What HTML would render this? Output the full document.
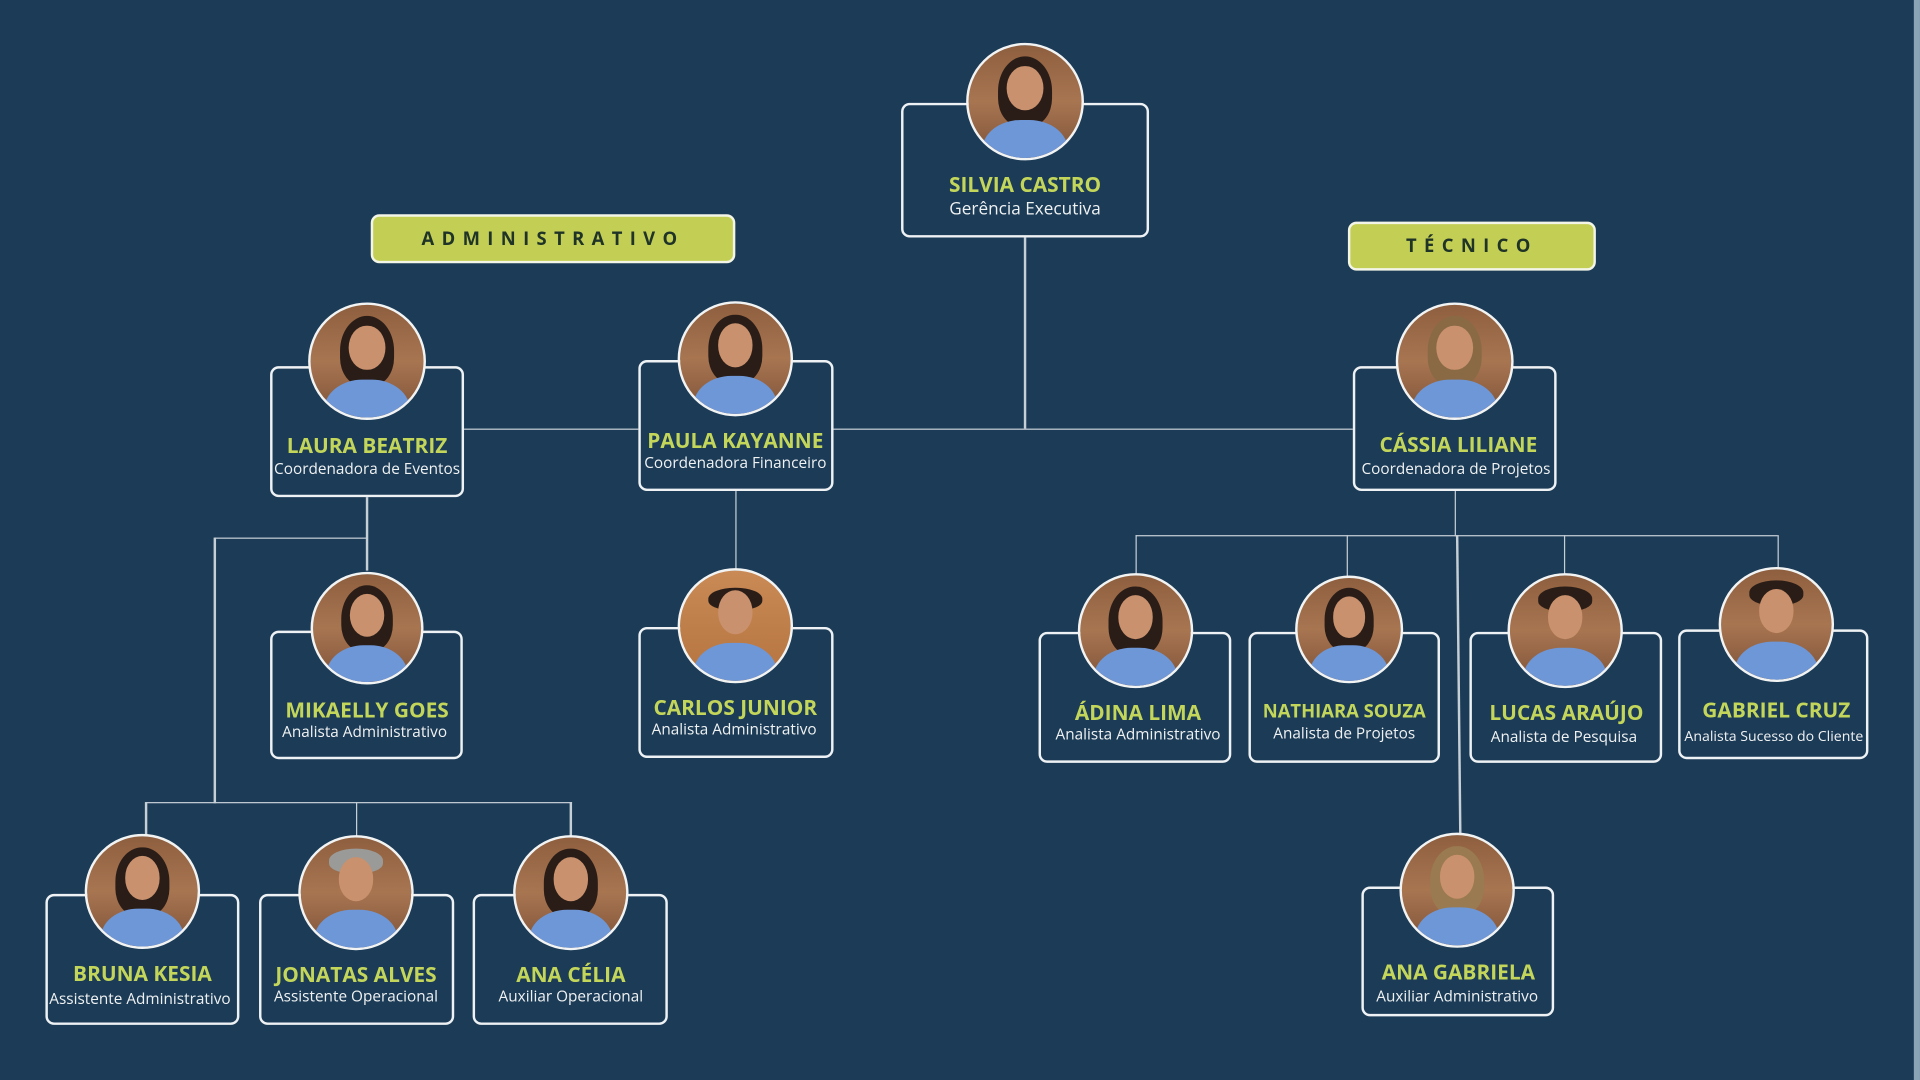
<!DOCTYPE html>
<html><head><meta charset="utf-8">
<style>
html,body{margin:0;padding:0;width:1920px;height:1080px;overflow:hidden;background:#1b3b57;}
#w{position:absolute;left:0;top:0;width:1564px;height:882px;transform:scale(1.2276,1.2245);transform-origin:0 0;font-family:"Open Sans","Liberation Sans",sans-serif;}
.box{position:absolute;border:2px solid #eef2f4;border-radius:7px;box-sizing:border-box;background:#1b3b57;}
.ph{position:absolute;border-radius:50%;border:2px solid #f2f4f4;box-sizing:border-box;overflow:hidden;background:linear-gradient(180deg,#8e5f3f 0%,#a87551 50%,#7d5238 100%);}
.ph .hair{position:absolute;left:26%;top:10%;width:48%;height:62%;border-radius:50% 50% 40% 40%;background:#2a1d17;}
.ph .face{position:absolute;left:34%;top:18%;width:32%;height:40%;border-radius:50%;background:#c9916d;}
.ph .shirt{position:absolute;left:12%;top:66%;width:76%;height:60%;border-radius:45% 45% 0 0;background:#6e97d8;}
.n{position:absolute;transform:translateX(-50%);white-space:nowrap;color:#c3d65a;font-weight:bold;font-size:17px;line-height:20px;}
.t{position:absolute;transform:translateX(-50%);white-space:nowrap;color:#f0f2f2;font-size:12.5px;line-height:16px;}
.l{position:absolute;background:#c6ced6;}
.tag{position:absolute;background:#c3ce55;border:2px solid #f3f5e6;border-radius:7px;box-sizing:border-box;color:#1f3327;font-weight:bold;font-size:15px;letter-spacing:6px;text-align:center;}
</style></head><body>
<div id="w">
<!-- lines -->
<div class="l" style="left:834px;top:194px;width:1.5px;height:156px"></div>
<div class="l" style="left:378px;top:349.5px;width:142px;height:1.5px"></div>
<div class="l" style="left:679px;top:349.5px;width:423px;height:1.5px"></div>
<div class="l" style="left:298px;top:406px;width:1.5px;height:60px"></div>
<div class="l" style="left:175px;top:438.5px;width:124px;height:1.5px"></div>
<div class="l" style="left:174px;top:439px;width:1.5px;height:217px"></div>
<div class="l" style="left:119px;top:654.5px;width:347px;height:1.5px"></div>
<div class="l" style="left:118px;top:655px;width:1.5px;height:30px"></div>
<div class="l" style="left:289.5px;top:655px;width:1.5px;height:30px"></div>
<div class="l" style="left:464px;top:655px;width:1.5px;height:30px"></div>
<div class="l" style="left:598.5px;top:401px;width:1.5px;height:65px"></div>
<div class="l" style="left:1184.5px;top:401px;width:1.5px;height:37px"></div>
<div class="l" style="left:925px;top:436.5px;width:523px;height:1.5px"></div>
<div class="l" style="left:924.5px;top:437px;width:1.5px;height:33px"></div>
<div class="l" style="left:1096.5px;top:437px;width:1.5px;height:35px"></div>
<div class="l" style="left:1273.5px;top:437px;width:1.5px;height:33px"></div>
<div class="l" style="left:1447.5px;top:437px;width:1.5px;height:28px"></div>
<div class="l" style="left:1186px;top:437px;width:1.5px;height:245px;transform:rotate(-0.6deg);transform-origin:0 0"></div>
<div style="position:absolute;left:1559px;top:0;width:5px;height:882px;background:#8aa3b5"></div>

<!-- tags -->
<div class="tag" style="left:302px;top:175px;width:297px;height:40px;line-height:36px">ADMINISTRATIVO</div>
<div class="tag" style="left:1098px;top:181px;width:202px;height:40px;line-height:36px">TÉCNICO</div>

<!-- Silvia -->
<div class="box" style="left:734px;top:84px;width:202px;height:110px"></div>
<div class="ph" style="left:787px;top:35px;width:96px;height:96px"><div class="hair"></div><div class="face"></div><div class="shirt"></div></div>
<div class="n" style="left:835px;top:141px">SILVIA CASTRO</div>
<div class="t" style="left:835px;top:163px;font-size:14px">Gerência Executiva</div>

<!-- Laura -->
<div class="box" style="left:220px;top:299px;width:158px;height:107px"></div>
<div class="ph" style="left:251px;top:247px;width:96px;height:96px"><div class="hair"></div><div class="face"></div><div class="shirt"></div></div>
<div class="n" style="left:299px;top:354px">LAURA BEATRIZ</div>
<div class="t" style="left:299px;top:375px">Coordenadora de Eventos</div>

<!-- Paula -->
<div class="box" style="left:520px;top:294px;width:159px;height:107px"></div>
<div class="ph" style="left:552px;top:246px;width:94px;height:94px"><div class="hair"></div><div class="face"></div><div class="shirt"></div></div>
<div class="n" style="left:599px;top:350px">PAULA KAYANNE</div>
<div class="t" style="left:599px;top:370px">Coordenadora Financeiro</div>

<!-- Cassia -->
<div class="box" style="left:1102px;top:299px;width:166px;height:102px"></div>
<div class="ph" style="left:1137px;top:247px;width:96px;height:96px"><div class="hair" style="background:#8a6a45"></div><div class="face"></div><div class="shirt"></div></div>
<div class="n" style="left:1188px;top:353px">CÁSSIA LILIANE</div>
<div class="t" style="left:1186px;top:375px">Coordenadora de Projetos</div>

<!-- Mikaelly -->
<div class="box" style="left:220px;top:515px;width:157px;height:105px"></div>
<div class="ph" style="left:253px;top:467px;width:92px;height:92px"><div class="hair"></div><div class="face"></div><div class="shirt"></div></div>
<div class="n" style="left:299px;top:570px">MIKAELLY GOES</div>
<div class="t" style="left:297px;top:590px">Analista Administrativo</div>

<!-- Carlos -->
<div class="box" style="left:520px;top:512px;width:159px;height:107px"></div>
<div class="ph" style="left:552px;top:464px;width:94px;height:94px;background:linear-gradient(180deg,#c98a56,#b5743f)"><div class="hair" style="top:16%;height:20%"></div><div class="face"></div><div class="shirt"></div></div>
<div class="n" style="left:599px;top:568px">CARLOS JUNIOR</div>
<div class="t" style="left:598px;top:588px">Analista Administrativo</div>

<!-- Adina -->
<div class="box" style="left:846px;top:516px;width:157px;height:107px"></div>
<div class="ph" style="left:878px;top:468px;width:94px;height:94px"><div class="hair"></div><div class="face"></div><div class="shirt"></div></div>
<div class="n" style="left:927px;top:572px">ÁDINA LIMA</div>
<div class="t" style="left:927px;top:592px">Analista Administrativo</div>

<!-- Nathiara -->
<div class="box" style="left:1017px;top:516px;width:156px;height:107px"></div>
<div class="ph" style="left:1055px;top:470px;width:88px;height:88px"><div class="hair"></div><div class="face"></div><div class="shirt"></div></div>
<div class="n" style="left:1095px;top:571px;font-size:15px">NATHIARA SOUZA</div>
<div class="t" style="left:1095px;top:591px">Analista de Projetos</div>

<!-- Lucas -->
<div class="box" style="left:1197px;top:516px;width:157px;height:107px"></div>
<div class="ph" style="left:1228px;top:468px;width:94px;height:94px"><div class="hair" style="height:22%"></div><div class="face"></div><div class="shirt"></div></div>
<div class="n" style="left:1276px;top:572px">LUCAS ARAÚJO</div>
<div class="t" style="left:1274px;top:594px">Analista de Pesquisa</div>

<!-- Gabriel -->
<div class="box" style="left:1367px;top:514px;width:155px;height:106px"></div>
<div class="ph" style="left:1400px;top:463px;width:94px;height:94px"><div class="hair" style="height:22%"></div><div class="face"></div><div class="shirt"></div></div>
<div class="n" style="left:1447px;top:570px">GABRIEL CRUZ</div>
<div class="t" style="left:1445px;top:594px;font-size:11.5px">Analista Sucesso do Cliente</div>

<!-- Bruna -->
<div class="box" style="left:37px;top:730px;width:158px;height:107px"></div>
<div class="ph" style="left:69px;top:681px;width:94px;height:94px"><div class="hair"></div><div class="face"></div><div class="shirt"></div></div>
<div class="n" style="left:116px;top:785px">BRUNA KESIA</div>
<div class="t" style="left:114px;top:808px">Assistente Administrativo</div>

<!-- Jonatas -->
<div class="box" style="left:211px;top:730px;width:159px;height:107px"></div>
<div class="ph" style="left:243px;top:682px;width:94px;height:94px"><div class="hair" style="background:#9a9a98;height:22%"></div><div class="face"></div><div class="shirt"></div></div>
<div class="n" style="left:290px;top:786px">JONATAS ALVES</div>
<div class="t" style="left:290px;top:806px">Assistente Operacional</div>

<!-- Ana Celia -->
<div class="box" style="left:385px;top:730px;width:159px;height:107px"></div>
<div class="ph" style="left:418px;top:682px;width:94px;height:94px"><div class="hair"></div><div class="face"></div><div class="shirt"></div></div>
<div class="n" style="left:465px;top:786px">ANA CÉLIA</div>
<div class="t" style="left:465px;top:806px">Auxiliar Operacional</div>

<!-- Ana Gabriela -->
<div class="box" style="left:1109px;top:724px;width:157px;height:106px"></div>
<div class="ph" style="left:1140px;top:680px;width:94px;height:94px"><div class="hair" style="background:#9a7a50"></div><div class="face"></div><div class="shirt"></div></div>
<div class="n" style="left:1188px;top:784px">ANA GABRIELA</div>
<div class="t" style="left:1187px;top:806px">Auxiliar Administrativo</div>
</div>
</body></html>
